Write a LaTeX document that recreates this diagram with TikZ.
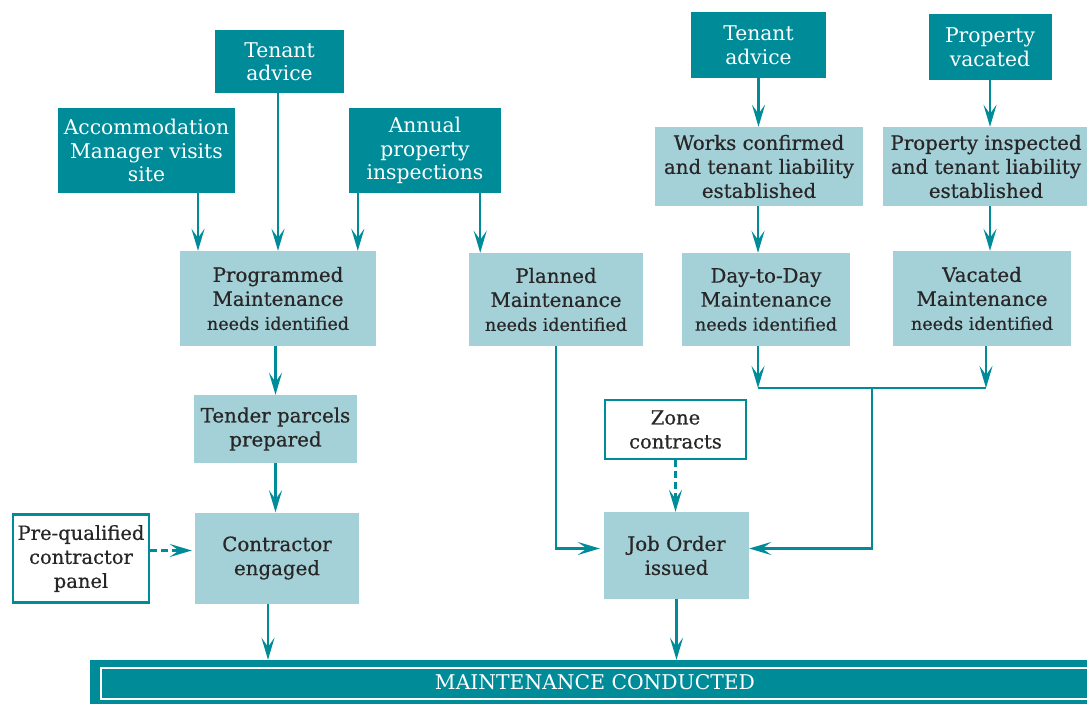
\documentclass[tikz,border=0pt]{standalone}
\usepackage{fontspec}
\setmainfont{DejaVu Serif}
\newfontfamily\medfont{DejaVu Serif}[FakeBold=0.6]
\usetikzlibrary{arrows.meta}

\definecolor{mteal}{RGB}{0,139,153}
\definecolor{mlight}{RGB}{164,209,216}
\definecolor{mtext}{RGB}{40,38,38}

\newcommand{\needs}{{\fontsize{17.5}{24}\selectfont needs identified}}

\begin{document}
\begin{tikzpicture}[x=1pt,y=-1pt,
  dark/.style={fill=mteal,text=white,align=center,inner sep=0pt,
    font=\fontsize{20.3}{23.5}\selectfont},
  light/.style={fill=mlight,text=mtext,align=center,inner sep=0pt,
    font=\medfont\fontsize{19.8}{24}\selectfont},
  open/.style={draw=mteal,line width=2.5pt,fill=white,text=mtext,
    align=center,inner sep=0pt,font=\medfont\fontsize{19.5}{24}\selectfont},
  link/.style={draw=mteal,line width=2.5pt},
  arr/.style={link,-{Stealth[length=22pt,width=13pt,inset=9pt]}},
  dashlink/.style={arr,dash pattern=on 7pt off 4pt}]
  \useasboundingbox (0,0) rectangle (1087,704);

  % sources
  \node[dark,minimum width=129,minimum height=63] (tenL) at (279.5,61.5)
    {Tenant\\advice};
  \node[dark,minimum width=177,minimum height=85] (acc) at (146.5,150.5)
    {Accommodation\\Manager visits\\site};
  \node[dark,minimum width=152,minimum height=85] (annual) at (425,150.5)
    {Annual\\property\\inspections};
  \node[dark,minimum width=135,minimum height=66] (tenR) at (758.5,45)
    {Tenant\\advice};
  \node[dark,minimum width=123,minimum height=66] (vac) at (990,47)
    {Property\\vacated};

  % steps
  \node[light,minimum width=208,minimum height=79] (works) at (759,166.5)
    {Works confirmed\\and tenant liability\\established};
  \node[light,minimum width=206,minimum height=79] (insp) at (986,166.5)
    {Property inspected\\and tenant liability\\established};
  \node[light,minimum width=196,minimum height=95] (prog) at (278,298.5)
    {Programmed\\Maintenance\\\needs};
  \node[light,minimum width=174,minimum height=93] (planned) at (556,299.5)
    {Planned\\Maintenance\\\needs};
  \node[light,minimum width=168,minimum height=93] (day) at (766,299.5)
    {Day-to-Day\\Maintenance\\\needs};
  \node[light,minimum width=178,minimum height=95] (vacm) at (982,298.5)
    {Vacated\\Maintenance\\\needs};
  \node[light,minimum width=163,minimum height=68] (tender) at (275.5,429)
    {Tender parcels\\prepared};
  \node[light,minimum width=164,minimum height=91] (contr) at (277,558)
    {Contractor\\engaged};
  \node[light,minimum width=145,minimum height=87] (job) at (676.5,555.5)
    {Job Order\\issued};
  \node[open,minimum width=136,minimum height=88] (prequal) at (81,558.5)
    {Pre-qualified\\contractor\\panel};
  \node[open,minimum width=141,minimum height=59] (zone) at (675.5,429.5)
    {Zone\\contracts};

  % bottom bar
  \node[dark,minimum width=1010,minimum height=44] (done) at (595,682)
    {MAINTENANCE CONDUCTED};
  \draw[white,line width=2pt]
    ([shift={(11,8)}]done.north west)
    rectangle
    ([shift={(-5,-5)}]done.south east);

  % junction under the day-to-day and vacated boxes
  \coordinate (jl) at (758,388);
  \coordinate (jm) at (872,388);
  \coordinate (jr) at (986,388);

  \draw[arr]
    ([xshift=51.5]acc.south)
    --
    ([xshift=51.5]acc.south |- prog.north);
  \draw[arr]
    (tenL.south -| prog.north)
    --
    (prog.north);
  \draw[arr]
    ([xshift=9]annual.south west)
    --
    ([xshift=9]annual.south west |- prog.north);
  \draw[arr]
    ([xshift=-21]annual.south east)
    --
    ([xshift=-21]annual.south east |- planned.north);
  \draw[arr]
    (tenR.south)
    --
    (tenR.south |- works.north);
  \draw[arr]
    (vac.south)
    --
    (vac.south |- insp.north);
  \draw[arr]
    (works.south -| jl)
    --
    (jl |- day.north);
  \draw[arr]
    (insp.south -| vac.south)
    --
    (vac.south |- vacm.north);
  \draw[arr]
    (prog.south -| tender.north)
    --
    (tender.north);
  \draw[arr]
    (tender.south)
    --
    (tender.south |- contr.north);
  \draw[arr]
    ([xshift=-9]contr.south)
    --
    ([xshift=-9]contr.south |- done.north);
  \draw[dashlink,shorten >=3pt]
    ([yshift=8]prequal.east)
    --
    ([yshift=8]prequal.east -| contr.west);
  \draw[arr]
    (day.south -| jl)
    --
    (jl);
  \draw[arr]
    (vacm.south -| jr)
    --
    (jr);
  \draw[link]
    (jl)
    --
    (jr);
  \draw[arr,shorten >=4pt]
    (planned.south)
    |-
    ([yshift=7]job.west);
  \draw[arr]
    (jm)
    |-
    ([yshift=7]job.east);
  \draw[dashlink]
    (zone.south)
    --
    (zone.south |- job.north);
  \draw[arr]
    (job.south)
    --
    (job.south |- done.north);
\end{tikzpicture}
\end{document}
